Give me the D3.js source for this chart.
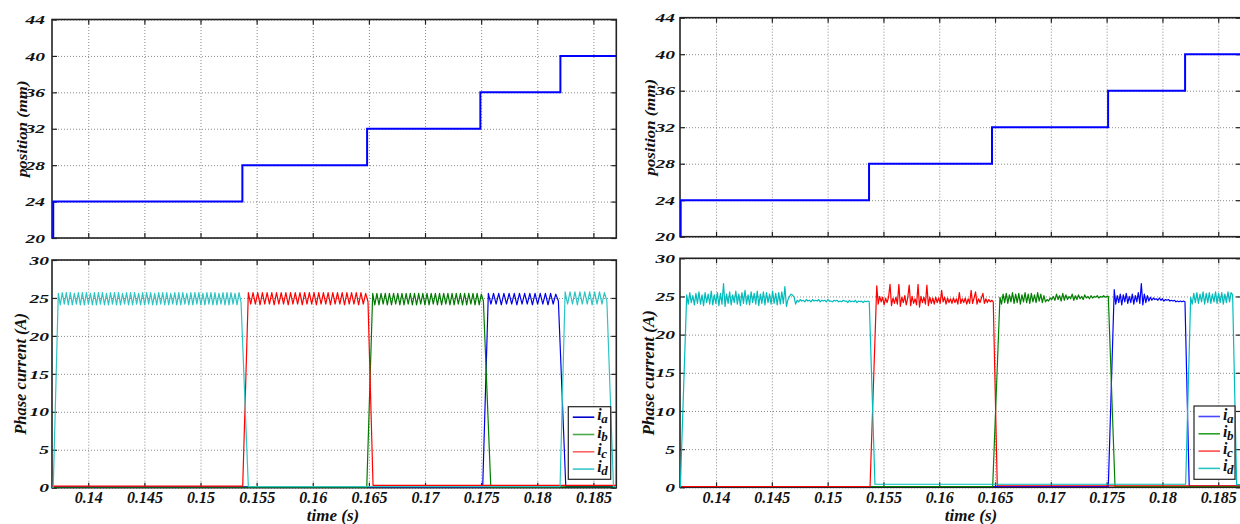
<!DOCTYPE html>
<html>
<head>
<meta charset="utf-8">
<script src="https://cdnjs.cloudflare.com/ajax/libs/d3/7.8.5/d3.min.js"></script>
<style>
body { margin: 0; background: #fff; }
svg text { font-family: "Liberation Serif", "Times New Roman", serif; font-weight: 700; font-style: italic; fill: #111; }
</style>
</head>
<body>
<svg id="chart" width="1240" height="524"></svg>
<script>
// time axis
var timeStart = 0.13677, timeEnd = 0.18704;
var timeTicks = [0.14, 0.145, 0.15, 0.155, 0.16, 0.165, 0.17, 0.175, 0.18, 0.185];
var timeTickLabels = ['0.14', '0.145', '0.15', '0.155', '0.16', '0.165', '0.17', '0.175', '0.18', '0.185'];
var posTicks = [20, 24, 28, 32, 36, 40, 44];
var currentTicks = [0, 5, 10, 15, 20, 25, 30];

// position steps (mm) and the times they happen
var posLevels = [20, 24, 28, 32, 36, 40];
var posStepsSim = [0.13677, 0.13688, 0.15373, 0.16484, 0.17493, 0.18206];
var posStepsExp = [0.13677, 0.13683, 0.15371, 0.16473, 0.17513, 0.18203];

var phaseNames = ['a', 'b', 'c', 'd'];

// simulation: pulses as [rise start, top reached, fall start, back at zero]
var simEdgesA = [[0.17514, 0.17564, 0.18188, 0.18254]];
var simEdgesB = [[0.16481, 0.16534, 0.17520, 0.17586]];
var simEdgesC = [[0.15376, 0.15426, 0.16492, 0.16537]];
var simEdgesD = [[0.13688, 0.13733, 0.15361, 0.15426], [0.18203, 0.18248, 0.18620, 0.18679]];
// low level before / between / after pulses
var simLowA = [0.1, 0.15];
var simLowB = [0.05, 0.1];
var simLowC = [0.2, 0.3];
var simLowD = [0, 0.15, 0.15];

// simulation ripple, peaks and valleys
var simRippleA = [25.6, 24.2, 25.6, 24.2, 25.6, 24.1, 25.6, 24.2, 25.6, 24.2, 25.6, 24.1, 25.6, 24.2, 25.6, 24.2, 25.6, 24.1, 25.6, 24.2, 25.6, 24.2, 25.6, 24.1, 25.6, 24.2, 25.5, 24.6];
var simRippleB = [25.6, 24.1, 25.6, 24.1, 25.6, 24.2, 25.6, 24.1, 25.6, 24.1, 25.6, 24.2, 25.6, 24.1, 25.6, 24.1, 25.6, 24.2, 25.6, 24.1, 25.6, 24.1, 25.6, 24.2, 25.6, 24.1, 25.6, 24.1, 25.6, 24.2, 25.6, 24.1, 25.6, 24.1, 25.6, 24.2, 25.6, 24.1, 25.6, 24.1, 25.6, 24.2, 25.6, 24.1, 25.6, 24.1, 25.6, 24.2, 25.6, 24.1, 25.6, 24.1, 25.5, 24.6];
var simRippleC = [25.7, 24.2, 25.7, 24.2, 25.7, 24.1, 25.7, 24.2, 25.7, 24.2, 25.7, 24.1, 25.7, 24.2, 25.7, 24.2, 25.7, 24.1, 25.7, 24.2, 25.7, 24.2, 25.7, 24.1, 25.7, 24.2, 25.7, 24.2, 25.7, 24.1, 25.7, 24.2, 25.7, 24.2, 25.7, 24.1, 25.7, 24.2, 25.7, 24.2, 25.7, 24.1, 25.7, 24.2, 25.7, 24.2, 25.7, 24.1, 25.7, 24.2, 25.6, 24.5];
var simRippleD1 = [25.6, 24.1, 25.7, 24.2, 25.7, 24.1, 25.7, 24.1, 25.6, 24.2, 25.7, 24.1, 25.7, 24.1, 25.7, 24.2, 25.6, 24.1, 25.7, 24.1, 25.7, 24.2, 25.7, 24.1, 25.6, 24.1, 25.7, 24.2, 25.7, 24.1, 25.7, 24.1, 25.6, 24.2, 25.7, 24.1, 25.7, 24.1, 25.7, 24.2, 25.6, 24.1, 25.7, 24.1, 25.7, 24.2, 25.7, 24.1, 25.6, 24.1, 25.7, 24.2, 25.7, 24.1, 25.7, 24.1, 25.6, 24.2, 25.7, 24.1, 25.7, 24.1, 25.7, 24.2, 25.6, 24.1, 25.7, 24.1, 25.7, 24.2, 25.7, 24.1, 25.6, 24.1, 25.7, 24.2, 25.7, 24.1, 25.7, 24.1, 25.6, 24.2, 25.7, 24.1, 25.7, 24.1, 25.7, 24.2, 25.6, 24.1, 25.7, 24.4];
var simRippleD2 = [25.8, 24.2, 25.8, 24.2, 25.8, 24.1, 25.8, 24.2, 25.8, 24.2, 25.8, 24.1, 25.8, 24.2, 25.8, 24.2, 25.7, 24.6];

// experiment: pulses as [rise start, top reached, fall start, back at zero]
var expEdgesA = [[0.17515, 0.17568, 0.18202, 0.18240]];
var expEdgesB = [[0.16479, 0.16544, 0.17515, 0.17575]];
var expEdgesC = [[0.15380, 0.15440, 0.16484, 0.16520]];
var expEdgesD = [[0.13680, 0.13737, 0.15373, 0.15424], [0.18208, 0.18253, 0.18629, 0.18665]];
var expLowA = [0.1, 0.15];
var expLowB = [0.1, 0.1];
var expLowC = [0.1, 0.2];
var expLowD = [0, 0.4, 0.35];

var expCurrentA = [25.9, 24.0, 25.1, 24.2, 25.3, 23.9, 25.2, 24.3, 25.4, 24.1, 25.0, 24.2, 25.3, 24.0, 25.1, 24.3, 25.5, 24.1, 26.7, 23.9, 25.3, 24.2, 25.1, 24.4, 24.9, 24.5, 24.8, 24.6, 24.7, 24.5, 24.8, 24.5, 24.7, 24.4, 24.6, 24.5, 24.6, 24.4, 24.5, 24.4, 24.5, 24.3, 24.4, 24.3, 24.4, 24.3, 24.4, 24.3];
var expCurrentB = [24.9, 24.0, 25.3, 24.2, 25.4, 24.1, 25.2, 24.3, 25.5, 24.1, 25.3, 24.2, 25.4, 24.0, 25.2, 24.3, 25.5, 24.2, 25.3, 24.1, 25.4, 24.3, 25.2, 24.2, 25.5, 24.4, 25.3, 24.2, 25.1, 24.3, 24.6, 24.4, 24.8, 24.6, 25.0, 24.5, 25.3, 24.6, 25.1, 24.4, 25.4, 24.5, 25.2, 24.6, 25.0, 24.7, 25.3, 24.5, 25.1, 24.6, 25.2, 24.7, 25.0, 24.6, 25.2, 24.8, 25.0, 24.7, 25.1, 24.8, 25.0, 24.9, 25.1, 24.8, 25.0, 24.9, 25.1, 24.9, 25.0, 25.0];
var expCurrentC = [26.4, 24.0, 25.0, 24.3, 24.9, 23.9, 24.8, 24.2, 24.9, 26.6, 23.8, 24.8, 24.1, 24.9, 24.0, 26.6, 23.7, 24.9, 24.2, 25.1, 23.9, 24.8, 26.5, 23.8, 25.0, 24.1, 24.7, 23.9, 26.6, 23.6, 25.0, 24.2, 24.9, 24.0, 26.5, 23.8, 24.9, 24.1, 24.8, 24.0, 24.9, 24.2, 24.8, 24.1, 25.8, 24.3, 24.9, 24.0, 24.8, 24.2, 24.7, 24.1, 24.8, 24.2, 24.7, 24.0, 25.5, 24.1, 24.7, 24.2, 24.8, 24.0, 24.7, 24.1, 25.8, 24.1, 24.8, 25.6, 24.0, 24.7, 24.2, 24.8, 25.4, 24.1, 24.7, 24.2, 24.6, 24.3, 24.5, 24.3];
var expCurrentD1 = [25.2, 24.0, 25.5, 24.2, 25.1, 23.9, 25.4, 24.1, 25.6, 24.0, 25.2, 23.8, 25.5, 24.2, 25.3, 24.0, 25.7, 23.9, 25.2, 24.1, 25.5, 23.8, 25.4, 24.0, 26.7, 23.7, 25.3, 24.1, 25.6, 23.9, 25.2, 24.2, 25.7, 24.0, 25.3, 23.8, 25.5, 24.1, 25.8, 24.0, 25.2, 23.9, 25.6, 24.2, 25.4, 24.0, 25.7, 23.8, 25.3, 24.1, 25.6, 23.9, 25.5, 24.2, 25.3, 24.0, 25.7, 24.1, 25.4, 23.9, 25.5, 24.0, 25.6, 24.1, 26.3, 23.7, 24.6, 25.0, 25.3, 25.2, 24.9, 24.0, 24.5, 24.3, 24.6, 24.4, 24.5, 24.3, 24.6, 24.4, 24.5, 24.3, 24.6, 24.4, 24.5, 24.4, 24.6, 24.3, 24.5, 24.4, 24.5, 24.3, 24.6, 24.4, 24.4, 24.3, 24.5, 24.4, 24.5, 24.3, 24.4, 24.3, 24.5, 24.4, 24.4, 24.2, 24.5, 24.3, 24.4, 24.3, 24.5, 24.2, 24.4, 24.3, 24.4, 24.2, 24.4, 24.3, 24.4, 24.3];
var expCurrentD2 = [24.9, 24.0, 25.4, 24.2, 25.5, 24.1, 25.3, 24.3, 25.6, 24.0, 25.4, 24.2, 25.5, 24.1, 25.3, 24.3, 25.6, 24.1, 25.4, 24.2, 25.5, 24.0, 25.3, 24.2, 25.6, 24.3, 25.5, 25.2];

var simColors = ['#0000e6', '#007a00', '#ff0000', '#2ec4c4'];
var simLegendColors = ['#0000cc', '#4caa4c', '#ff6464', '#3cc8c8'];
var expColors = ['#0000ff', '#008000', '#ff0000', '#00bcbc'];
var expLegendColors = ['#4848ff', '#2ca02c', '#ff4c4c', '#28c4c4'];

var svg = d3.select('#chart');

/**
 * Builds the points of one phase current from its pulses
 */
var pulseTrace = function(edges, ripples, lows) {
	var pts = [[timeStart, lows[0]]];
	edges.forEach(function(e, k) {
		var r = ripples[k];
		pts.push([e[0], lows[k]]);
		r.forEach(function(v, j) {
			pts.push([e[1] + (e[2] - e[1]) * j / (r.length - 1), v]);
		});
		pts.push([e[3], lows[k + 1]]);
	});
	pts.push([timeEnd, lows[lows.length - 1]]);
	return pts;
};

var simCurrents = [
	pulseTrace(simEdgesA, [simRippleA], simLowA),
	pulseTrace(simEdgesB, [simRippleB], simLowB),
	pulseTrace(simEdgesC, [simRippleC], simLowC),
	pulseTrace(simEdgesD, [simRippleD1, simRippleD2], simLowD)
];
var expCurrents = [
	pulseTrace(expEdgesA, [expCurrentA], expLowA),
	pulseTrace(expEdgesB, [expCurrentB], expLowB),
	pulseTrace(expEdgesC, [expCurrentC], expLowC),
	pulseTrace(expEdgesD, [expCurrentD1, expCurrentD2], expLowD)
];

var panels = [
	{ id: 'sim', x0: 52, x1: 616.3, top: [238, 19.5], bottom: [487.7, 260], steps: posStepsSim, currents: simCurrents,
	  colors: simColors, legendColors: simLegendColors, ylabEnd: [7, 3], ytitleX: [22, 20], timeX: 333,
	  legend: { x: 568.3, y: 406.7, w: 42.4, h: 72.6 }, ptitle: [14, 16.5] },
	{ id: 'exp', x0: 680, x1: 1241, top: [236.7, 17.7], bottom: [487.3, 258.3], steps: posStepsExp, currents: expCurrents,
	  colors: expColors, legendColors: expLegendColors, ylabEnd: [5, 5], ytitleX: [650, 648], timeX: 971,
	  legend: { x: 1194, y: 406, w: 41, h: 73.3 }, ptitle: [14, 17] }
];

/**
 * Draws grid, box, inward ticks and y tick labels of one plot
 */
var drawFrame = function(g, x, y, yTicks, yLabEnd, showXLabels) {
	var x0 = x.range()[0], x1 = x.range()[1], y0 = y.range()[0], y1 = y.range()[1];

	g.append('g').attr('transform', 'translate(0,' + y0 + ')')
		.call(d3.axisBottom(x).tickValues(timeTicks).tickSize(-(y0 - y1)).tickFormat(''))
		.call(function(a) { a.select('.domain').remove(); })
		.selectAll('line').attr('stroke', '#8a8a8a').attr('stroke-dasharray', '1,2');
	g.append('g').attr('transform', 'translate(' + x0 + ',0)')
		.call(d3.axisLeft(y).tickValues(yTicks).tickSize(-(x1 - x0)).tickFormat(''))
		.call(function(a) { a.select('.domain').remove(); })
		.selectAll('line').attr('stroke', '#8a8a8a').attr('stroke-dasharray', '1,2');

	// inward ticks on all four sides
	var tk = 5;
	var bx = g.append('g').attr('transform', 'translate(0,' + y0 + ')')
		.call(d3.axisBottom(x).tickValues(timeTicks).tickSize(-tk).tickPadding(6)
			.tickFormat(function(d, i) { return showXLabels ? timeTickLabels[i] : ''; }));
	bx.select('.domain').remove();
	bx.selectAll('text').attr('font-size', '16px').attr('fill', '#111').attr('dy', '0.6em');
	g.append('g').attr('transform', 'translate(0,' + y1 + ')')
		.call(d3.axisTop(x).tickValues(timeTicks).tickSize(-tk).tickFormat(''))
		.select('.domain').remove();
	var ly = g.append('g').attr('transform', 'translate(' + x0 + ',0)')
		.call(d3.axisLeft(y).tickValues(yTicks).tickSize(-tk).tickPadding(yLabEnd / 1.5));
	ly.select('.domain').remove();
	ly.selectAll('text').attr('font-size', '13px').attr('fill', '#111').attr('transform', 'scale(1.5,1)');
	g.append('g').attr('transform', 'translate(' + x1 + ',0)')
		.call(d3.axisRight(y).tickValues(yTicks).tickSize(-tk).tickFormat(''))
		.select('.domain').remove();
	g.selectAll('.tick line').filter(function() { return d3.select(this).attr('stroke-dasharray') == null; })
		.attr('stroke', '#222').attr('stroke-width', 1.2);
	g.selectAll('.tick text').style('font-family', '"Liberation Serif", serif');

	g.append('rect').attr('x', x0).attr('y', y1).attr('width', x1 - x0).attr('height', y0 - y1)
		.attr('fill', 'none').attr('stroke', '#222').attr('stroke-width', 1.6);
};

panels.forEach(function(p) {
	var x = d3.scaleLinear().domain([timeStart, timeEnd]).range([p.x0, p.x1]);
	var yPos = d3.scaleLinear().domain([20, 44]).range(p.top);
	var yCur = d3.scaleLinear().domain([0, 30]).range(p.bottom);

	// clip paths
	var defs = svg.append('defs');
	defs.append('clipPath').attr('id', p.id + '-clipTop').append('rect')
		.attr('x', p.x0).attr('y', p.top[1]).attr('width', p.x1 - p.x0).attr('height', p.top[0] - p.top[1]);
	defs.append('clipPath').attr('id', p.id + '-clipBot').append('rect')
		.attr('x', p.x0).attr('y', p.bottom[1]).attr('width', p.x1 - p.x0).attr('height', p.bottom[0] - p.bottom[1]);

	// position plot
	var gTop = svg.append('g');
	drawFrame(gTop, x, yPos, posTicks, p.ylabEnd[0], false);
	var posPts = p.steps.map(function(t, i) { return [t, posLevels[i]]; });
	posPts.push([timeEnd, posLevels[posLevels.length - 1]]);
	gTop.append('path').datum(posPts)
		.attr('clip-path', 'url(#' + p.id + '-clipTop)')
		.attr('fill', 'none').attr('stroke', '#0000ff').attr('stroke-width', 2)
		.attr('d', d3.line().curve(d3.curveStepAfter).x(function(d) { return x(d[0]); }).y(function(d) { return yPos(d[1]); }));

	gTop.append('text')
		.attr('transform', 'translate(' + p.ytitleX[0] + ',' + (p.top[0] + p.top[1]) / 2 + ') rotate(-90) scale(1.2,1)')
		.attr('text-anchor', 'middle').attr('dy', '0.35em').attr('font-size', p.ptitle[0] + 'px')
		.text('position (mm)');

	// current plot
	var gBot = svg.append('g');
	drawFrame(gBot, x, yCur, currentTicks, p.ylabEnd[1], true);
	var line = d3.line().x(function(d) { return x(d[0]); }).y(function(d) { return yCur(d[1]); });
	p.currents.forEach(function(c, i) {
		gBot.append('path').datum(c)
			.attr('clip-path', 'url(#' + p.id + '-clipBot)')
			.attr('fill', 'none').attr('stroke', p.colors[i]).attr('stroke-width', 1.2)
			.attr('stroke-linejoin', 'round').attr('d', line);
	});

	gBot.append('text')
		.attr('transform', 'translate(' + p.ytitleX[1] + ',' + (p.bottom[0] + p.bottom[1]) / 2 + ') rotate(-90)')
		.attr('text-anchor', 'middle').attr('dy', '0.35em').attr('font-size', p.ptitle[1] + 'px')
		.text('Phase current (A)');

	gBot.append('text').attr('x', p.timeX).attr('y', 521).attr('text-anchor', 'middle')
		.attr('font-size', '17px').text('time (s)');

	// legend
	var L = p.legend;
	var lg = gBot.append('g');
	lg.append('rect').attr('x', L.x).attr('y', L.y).attr('width', L.w).attr('height', L.h)
		.attr('fill', '#fff').attr('stroke', '#222').attr('stroke-width', 1.2);
	phaseNames.forEach(function(n, i) {
		var ry = L.y + 10.5 + i * 17.3;
		lg.append('line').attr('x1', L.x + 4.5).attr('x2', L.x + 26).attr('y1', ry).attr('y2', ry)
			.attr('stroke', p.legendColors[i]).attr('stroke-width', 1.6);
		var t = lg.append('text').attr('x', L.x + 29).attr('y', ry + 3).attr('font-size', '16px');
		t.append('tspan').text('i');
		t.append('tspan').attr('dy', 3).attr('dx', -0.5).attr('font-size', '13px').text(n);
	});
});
</script>
</body>
</html>
